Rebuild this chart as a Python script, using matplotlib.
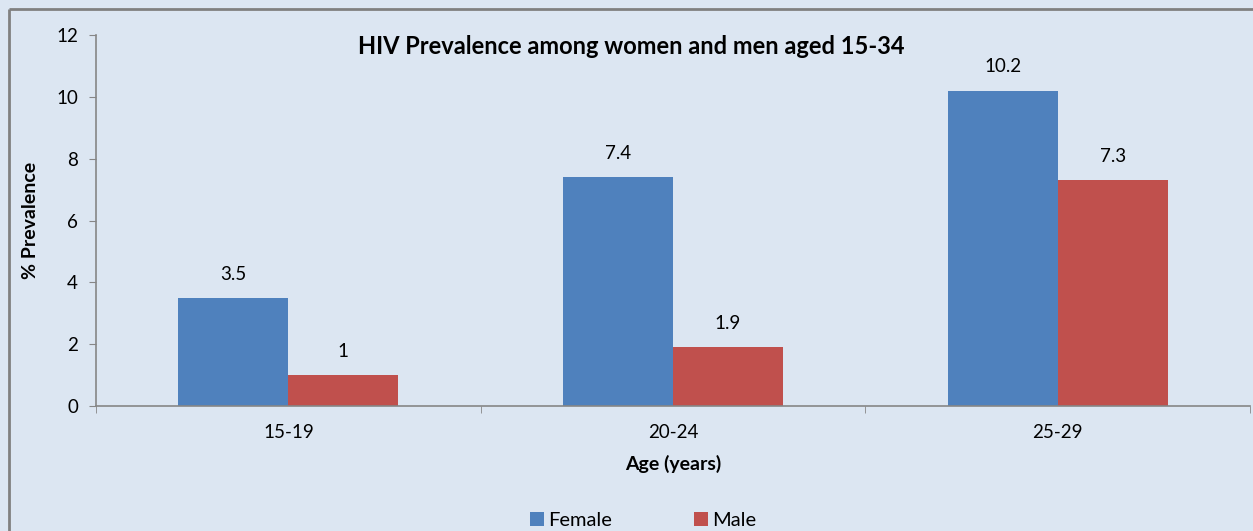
import matplotlib
matplotlib.use("Agg")
import matplotlib.pyplot as plt
import numpy as np
from matplotlib.lines import Line2D

categories = ["15-19", "20-24", "25-29"]
female = [3.5, 7.4, 10.2]
male = [1, 1.9, 7.3]
yticks = [0, 2, 4, 6, 8, 10, 12]

BG = "#DCE6F2"
BLUE = "#4F81BD"
RED = "#C0504D"
GRAY = "#868686"

plt.rcParams["font.family"] = ["Lato", "DejaVu Sans"]

W, H = 1253, 531
fig = plt.figure(figsize=(W / 100, H / 100), dpi=100)
fig.patch.set_facecolor(BG)
# outer chart frame (left and top edges)
fig.add_artist(Line2D([9 / W, 9 / W], [0, 1 - 9 / H], transform=fig.transFigure,
                      color="#808080", linewidth=2, solid_capstyle="butt"))
fig.add_artist(Line2D([9 / W, 1.01], [1 - 9 / H, 1 - 9 / H], transform=fig.transFigure,
                      color="#808080", linewidth=2, solid_capstyle="butt"))

ax = fig.add_axes([96 / W, 1 - 406 / H, (1250 - 96) / W, (406 - 35) / H])
ax.set_facecolor(BG)
ax.patch.set_edgecolor("none")

x = np.arange(len(categories))
w = 110 / 385
ax.bar(x - w / 2, female, w, color=BLUE, label="Female")
ax.bar(x + w / 2, male, w, color=RED, label="Male")

for xi, v in zip(x - w / 2, female):
    ax.annotate(f"{v:g}", (xi, v), xytext=(0, 11), textcoords="offset points",
                ha="center", va="bottom", fontsize=13.5)
for xi, v in zip(x + w / 2, male):
    ax.annotate(f"{v:g}", (xi, v), xytext=(0, 11), textcoords="offset points",
                ha="center", va="bottom", fontsize=13.5)

ax.set_xlim(-0.5, len(categories) - 0.5)
ax.set_ylim(0, 12)
ax.set_yticks(yticks)
ax.tick_params(axis="y", length=5, color=GRAY, labelsize=13.5, pad=8)
ax.set_xticks(x)
ax.set_xticklabels(categories, fontsize=13.5)
ax.tick_params(axis="x", length=0, pad=13)
ax.set_xticks(np.arange(len(categories) + 1) - 0.5, minor=True)
ax.tick_params(axis="x", which="minor", length=5, color=GRAY)

for s in ["top", "right"]:
    ax.spines[s].set_visible(False)
for s in ["left", "bottom"]:
    ax.spines[s].set_color(GRAY)
    ax.spines[s].set_linewidth(1.2)

ax.set_ylabel("% Prevalence", fontsize=14, fontweight="bold", labelpad=12)
ax.set_xlabel("Age (years)", fontsize=14, fontweight="bold", labelpad=10)
fig.text(631 / W, 1 - 46 / H, "HIV Prevalence among women and men aged 15-34",
         fontsize=17, fontweight="bold", ha="center", va="center")

fig.legend(loc="lower center", bbox_to_anchor=(643 / W, -0.03), ncol=2, frameon=False,
           fontsize=14.5, handlelength=0.7, handleheight=0.7, columnspacing=4.1,
           handletextpad=0.2)

fig.savefig("out.png", dpi=100, facecolor=BG, edgecolor="none")
